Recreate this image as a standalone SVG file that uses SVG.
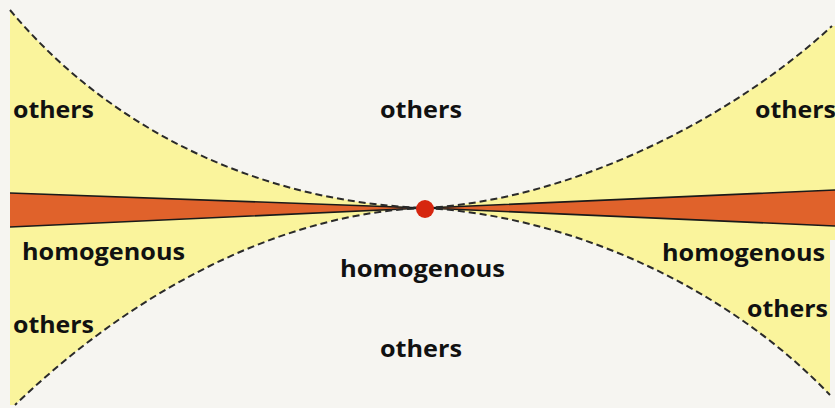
<svg xmlns="http://www.w3.org/2000/svg" width="835" height="408" viewBox="0 0 835 408">
<style>
.lbl{font-family:"Open Sans","Liberation Sans",sans-serif;font-weight:700;font-size:24px;fill:#111}
.zone{fill:#faf49c;stroke:none}
.dash{fill:none;stroke:#2a2a2a;stroke-width:2;stroke-dasharray:7 4}
.wedge{fill:#e0622b;stroke:#1a1a1a;stroke-width:1.6;stroke-linejoin:miter}
</style>
<rect width="835" height="408" fill="#f6f5f1"/>
<g id="zone-left">
<path class="zone" d="M10,10 C110,130 260,202 425,208 C300,212 150,275 15,405 L10,405 Z"/>
</g>
<g id="zone-right">
<path class="zone" d="M425,208 C570,200 730,120 832,26 L835,26 L835,240 L830,240 L830,395 C720,280 560,215 425,208 Z"/>
</g>
<g id="wedge-left"><path class="wedge" d="M10,193 L425,208 L10,227"/></g>
<g id="wedge-right"><path class="wedge" d="M835,190 L425,208 L835,226"/></g>
<g id="connectors">
<path class="dash" d="M10,10 C110,130 260,202 425,208"/>
<path class="dash" d="M425,208 C570,200 730,120 832,26"/>
<path class="dash" d="M425,208 C300,212 150,275 15,405"/>
<path class="dash" d="M425,208 C560,215 720,280 830,395"/>
</g>
<g id="center-point"><circle cx="425" cy="209" r="9" fill="#d6260f"/></g>
<g id="labels">
<text class="lbl" x="13" y="118" textLength="81" lengthAdjust="spacingAndGlyphs">others</text>
<text class="lbl" x="380" y="118" textLength="82" lengthAdjust="spacingAndGlyphs">others</text>
<text class="lbl" x="755" y="118" textLength="81" lengthAdjust="spacingAndGlyphs">others</text>
<text class="lbl" x="22" y="260" textLength="163" lengthAdjust="spacingAndGlyphs">homogenous</text>
<text class="lbl" x="340" y="277" textLength="165" lengthAdjust="spacingAndGlyphs">homogenous</text>
<text class="lbl" x="662" y="261" textLength="163" lengthAdjust="spacingAndGlyphs">homogenous</text>
<text class="lbl" x="13" y="333" textLength="81" lengthAdjust="spacingAndGlyphs">others</text>
<text class="lbl" x="747" y="317" textLength="81" lengthAdjust="spacingAndGlyphs">others</text>
<text class="lbl" x="380" y="357" textLength="82" lengthAdjust="spacingAndGlyphs">others</text>
</g>
</svg>
